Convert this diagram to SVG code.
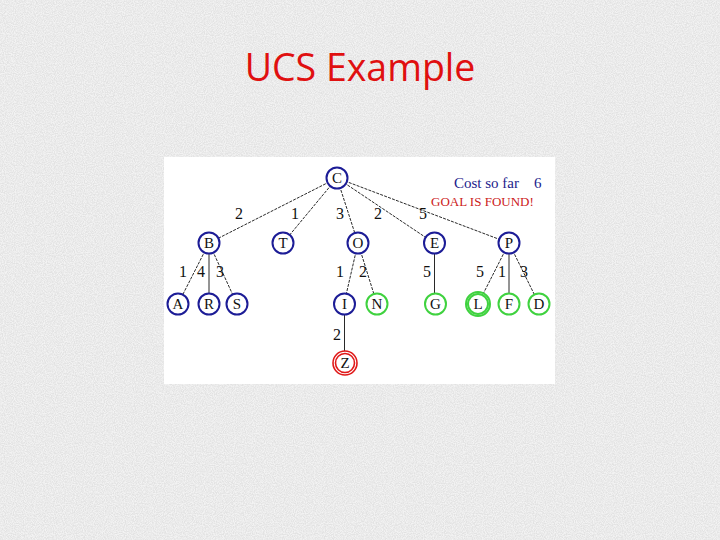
<svg xmlns="http://www.w3.org/2000/svg" width="720" height="540" viewBox="0 0 720 540">
<defs>
<filter id="grain" x="0" y="0" width="100%" height="100%">
<feTurbulence type="fractalNoise" baseFrequency="0.9" numOctaves="2" seed="3" result="n"/>
<feColorMatrix in="n" type="matrix" values="0 0 0 0 1  0 0 0 0 1  0 0 0 0 1  0 0 0 -2.2 1.6" />
</filter>
<style>
.title{font-family:"Open Sans","Liberation Sans",sans-serif;font-size:37.5px;fill:#e01010}
.lbl{font-family:"Liberation Serif",serif;font-size:16px;fill:#111}
.nt{font-family:"Liberation Serif",serif;font-size:15px;fill:#111;text-anchor:middle}
.blue circle{fill:#fff;stroke:#1c1c96;stroke-width:2}
.green circle{fill:#fff;stroke:#3fd23f;stroke-width:2}
.red circle{fill:#fff;stroke:#e01818;stroke-width:1.6}
.edge line{stroke:#111;stroke-width:0.9}
.edge .d{stroke-dasharray:3 1.2}
</style>
</defs>
<rect width="720" height="540" fill="#e2e2e2"/>
<rect width="720" height="540" filter="url(#grain)" opacity="0.6"/>
<text class="title" x="360" y="81" text-anchor="middle">UCS Example</text>
<rect x="164" y="157" width="391" height="227" fill="#fff"/>
<g id="connectors" class="edge">
<line class="d" x1="337" y1="178" x2="209" y2="243"/>
<line class="d" x1="337" y1="178" x2="283" y2="243"/>
<line class="d" x1="337" y1="178" x2="358" y2="243"/>
<line class="d" x1="337" y1="178" x2="434" y2="243"/>
<line class="d" x1="337" y1="178" x2="509" y2="243"/>
<line class="d" x1="209" y1="243" x2="178" y2="304"/>
<line x1="209" y1="243" x2="209" y2="304"/>
<line class="d" x1="209" y1="243" x2="237" y2="304"/>
<line class="d" x1="358" y1="243" x2="344" y2="304"/>
<line class="d" x1="358" y1="243" x2="377" y2="304"/>
<line x1="434.5" y1="243" x2="434.5" y2="304"/>
<line class="d" x1="509" y1="243" x2="478" y2="304"/>
<line x1="509" y1="243" x2="509" y2="304"/>
<line class="d" x1="509" y1="243" x2="539" y2="304"/>
<line x1="344.5" y1="304" x2="344.5" y2="363"/>
</g>
<g id="edge-labels">
<text class="lbl" x="235" y="219">2</text>
<text class="lbl" x="291" y="219">1</text>
<text class="lbl" x="336" y="219">3</text>
<text class="lbl" x="374" y="219">2</text>
<text class="lbl" x="419" y="219">5</text>
<text class="lbl" x="179" y="277">1</text>
<text class="lbl" x="197" y="277">4</text>
<text class="lbl" x="216" y="277">3</text>
<text class="lbl" x="336" y="277">1</text>
<text class="lbl" x="359" y="277">2</text>
<text class="lbl" x="423" y="277">5</text>
<text class="lbl" x="476" y="277">5</text>
<text class="lbl" x="498" y="277">1</text>
<text class="lbl" x="520" y="277">3</text>
<text class="lbl" x="333" y="340">2</text>
</g>
<g id="info">
<text x="454" y="188" font-family="Liberation Serif, serif" font-size="15" fill="#1c1c8c">Cost so far</text>
<text x="534" y="188" font-family="Liberation Serif, serif" font-size="15" fill="#1c1c8c">6</text>
<text x="431" y="206" font-family="Liberation Serif, serif" font-size="13" fill="#cc2020">GOAL IS FOUND!</text>
</g>
<g id="C" class="blue"><circle cx="337" cy="178" r="10.5"/><text class="nt" x="337" y="183">C</text></g>
<g id="B" class="blue"><circle cx="209" cy="243" r="10.5"/><text class="nt" x="209" y="248">B</text></g>
<g id="T" class="blue"><circle cx="283" cy="243" r="10.5"/><text class="nt" x="283" y="248">T</text></g>
<g id="O" class="blue"><circle cx="358" cy="243" r="10.5"/><text class="nt" x="358" y="248">O</text></g>
<g id="E" class="blue"><circle cx="434.5" cy="243" r="10.5"/><text class="nt" x="434.5" y="248">E</text></g>
<g id="P" class="blue"><circle cx="509" cy="243" r="10.5"/><text class="nt" x="509" y="248">P</text></g>
<g id="A" class="blue"><circle cx="178" cy="304" r="10.5"/><text class="nt" x="178" y="309">A</text></g>
<g id="R" class="blue"><circle cx="209" cy="304" r="10.5"/><text class="nt" x="209" y="309">R</text></g>
<g id="S" class="blue"><circle cx="237" cy="304" r="10.5"/><text class="nt" x="237" y="309">S</text></g>
<g id="I" class="blue"><circle cx="344.5" cy="304" r="10.5"/><text class="nt" x="344.5" y="309">I</text></g>
<g id="N" class="green"><circle cx="377" cy="304" r="10.5"/><text class="nt" x="377" y="309">N</text></g>
<g id="G" class="green"><circle cx="435.5" cy="304" r="10.5"/><text class="nt" x="435.5" y="309">G</text></g>
<g id="L" class="green"><circle cx="478" cy="304" r="12" stroke-width="1.6"/><circle cx="478" cy="304" r="10" fill="none" stroke-width="1.6"/><text class="nt" x="478" y="309">L</text></g>
<g id="F" class="green"><circle cx="509" cy="304" r="10.5"/><text class="nt" x="509" y="309">F</text></g>
<g id="D" class="green"><circle cx="539" cy="304" r="10.5"/><text class="nt" x="539" y="309">D</text></g>
<g id="Z" class="red"><circle cx="345" cy="363" r="12"/><circle cx="345" cy="363" r="9.5" fill="none"/><text class="nt" x="345" y="368">Z</text></g>
</svg>
